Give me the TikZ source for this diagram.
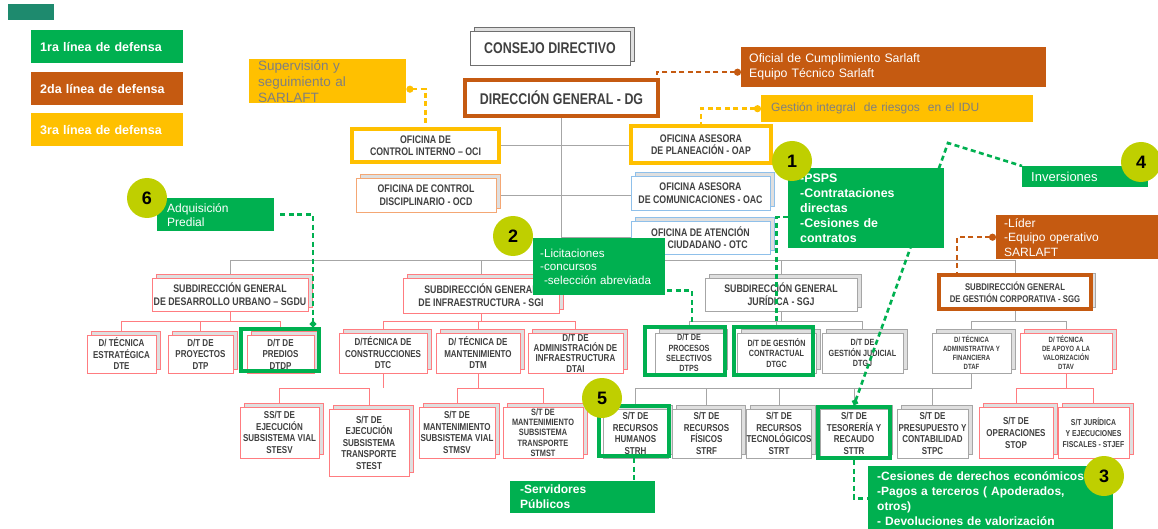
\documentclass[tikz,border=0pt]{standalone}
\usepackage{fontspec}
\setmainfont{Liberation Sans}
\newfontfamily\narrowfont{Liberation Sans}[FakeStretch=0.8,Ligatures=TeX]
\usetikzlibrary{shadows,arrows.meta}

\definecolor{firstline}{HTML}{00B050}
\definecolor{secondline}{HTML}{C55A11}
\definecolor{thirdline}{HTML}{FFC000}
\definecolor{legendteal}{HTML}{1E8A6E}
\definecolor{badgegreen}{HTML}{BFCF00}
\definecolor{redframe}{HTML}{FF7C80}
\definecolor{grayframe}{HTML}{A6A6A6}
\definecolor{darkframe}{HTML}{6F6F6F}
\definecolor{blueframe}{HTML}{8FC0EA}
\definecolor{orangeframe}{HTML}{F4A774}
\definecolor{boxtext}{HTML}{404040}
\definecolor{notetext}{HTML}{7F7F7F}

\pgfdeclarelayer{wires}
\pgfdeclarelayer{labels}
\pgfsetlayers{wires,main,labels}

\tikzset{
  orgbox/.style={draw=#1, fill=white, line width=0.7pt, text=boxtext, align=center,
    inner sep=0pt, font=\narrowfont\bfseries\fontsize{10}{11.5}\selectfont,
    copy shadow={shadow xshift=4pt, shadow yshift=4pt, fill=gray!25, draw=#1, line width=0.7pt}},
  thickbox/.style={draw=#1, fill=white, line width=4pt, text=boxtext, align=center,
    inner sep=0pt, font=\narrowfont\bfseries\fontsize{11}{12.5}\selectfont},
  highlight/.style={draw=firstline, line width=4pt, inner sep=0pt},
  note/.style={fill=#1, text=white, align=left, anchor=north west, inner xsep=9pt,
    inner ysep=1pt, font=\fontsize{12}{14}\selectfont},
  badge/.style={circle, fill=badgegreen, minimum size=40pt, inner sep=0pt,
    font=\bfseries\fontsize{18}{18}\selectfont},
  tline/.style={draw=grayframe, line width=0.8pt},
  rline/.style={draw=redframe, line width=0.8pt},
  link/.style={draw=#1, line width=2.6pt, dash pattern=on 5pt off 3.5pt},
  officetext/.style={font=\narrowfont\bfseries\fontsize{11}{12.5}\selectfont},
  sgtext/.style={font=\narrowfont\bfseries\fontsize{11}{13}\selectfont},
  jurtext/.style={font=\narrowfont\bfseries\fontsize{9}{10.3}\selectfont},
  smalltext/.style={font=\narrowfont\bfseries\fontsize{7.6}{9}\selectfont},
  legendtext/.style={font=\bfseries\fontsize{12.5}{14}\selectfont},
}

\begin{document}
\begin{tikzpicture}[x=1pt,y=-1pt]
  \useasboundingbox (0,0) rectangle (1158,529);

  % legend
  \fill [legendteal] (8,4) rectangle (54,20);
  \node (first)  [note=firstline,  legendtext, text width=134pt, minimum height=33pt] at (31,30)  {1ra línea de defensa};
  \node (second) [note=secondline, legendtext, text width=134pt, minimum height=33pt] at (31,72)  {2da línea de defensa};
  \node (third)  [note=thirdline,  legendtext, text width=134pt, minimum height=33pt] at (31,113) {3ra línea de defensa};

  % top of the chart
  \node (consejo) [orgbox=darkframe, font=\narrowfont\bfseries\fontsize{15.5}{17}\selectfont,
                   minimum width=160pt, minimum height=34pt] at (550,48) {CONSEJO DIRECTIVO};
  \node (dg)  [thickbox=secondline, font=\narrowfont\bfseries\fontsize{15.5}{17}\selectfont,
               minimum width=193pt, minimum height=36pt] at (561.5,98) {DIRECCIÓN GENERAL - DG};

  \node (oci) [thickbox=thirdline, minimum width=147pt, minimum height=33pt] at (425.5,145.5) {OFICINA DE\\CONTROL INTERNO – OCI};
  \node (ocd) [orgbox=orangeframe, officetext, minimum width=140pt, minimum height=34pt] at (426,195) {OFICINA DE CONTROL\\DISCIPLINARIO - OCD};
  \node (oap) [thickbox=thirdline, minimum width=140pt, minimum height=37pt] at (701,144.5) {OFICINA ASESORA\\DE PLANEACIÓN - OAP};
  \node (oac) [orgbox=blueframe, officetext, minimum width=139pt, minimum height=34pt] at (700.5,193) {OFICINA ASESORA\\DE COMUNICACIONES - OAC};
  \node (otc) [orgbox=blueframe, officetext, minimum width=139pt, minimum height=33pt] at (700.5,237.5) {OFICINA DE ATENCIÓN\\AL CIUDADANO - OTC};

  % subdirecciones
  \node (sgdu) [orgbox=redframe,  sgtext, minimum width=156pt, minimum height=33pt] at (230,294.5) {SUBDIRECCIÓN GENERAL\\DE DESARROLLO URBANO – SGDU};
  \node (sgi)  [orgbox=redframe,  sgtext, minimum width=156pt, minimum height=35pt] at (481,295.5) {SUBDIRECCIÓN GENERAL\\DE INFRAESTRUCTURA - SGI};
  \node (sgj)  [orgbox=grayframe, sgtext, minimum width=152pt, minimum height=33pt] at (781,294.5) {SUBDIRECCIÓN GENERAL\\JURÍDICA - SGJ};
  \node (sgg)  [thickbox=secondline, font=\narrowfont\bfseries\fontsize{9.7}{11.5}\selectfont,
                copy shadow={shadow xshift=4pt, shadow yshift=2pt, fill=gray!25, draw=grayframe, line width=0.7pt},
                minimum width=152pt, minimum height=34pt] at (1015,292) {SUBDIRECCIÓN GENERAL\\DE GESTIÓN CORPORATIVA - SGG};

  % direcciones tecnicas
  \node (dte)  [orgbox=redframe, minimum width=69pt, minimum height=38pt] at (121.5,354) {D/ TÉCNICA\\ESTRATÉGICA\\DTE};
  \node (dtp)  [orgbox=redframe, minimum width=65pt, minimum height=38pt] at (200.5,354) {D/T DE\\PROYECTOS\\DTP};
  \node (dtdp) [orgbox=redframe, minimum width=67pt, minimum height=38pt] at (280.5,354) {D/T DE\\PREDIOS\\DTDP};
  \node (dtc)  [orgbox=redframe, minimum width=88pt, minimum height=40pt] at (383,353) {D/TÉCNICA DE\\CONSTRUCCIONES\\DTC};
  \node (dtm)  [orgbox=redframe, minimum width=84pt, minimum height=40pt] at (478,353) {D/ TÉCNICA DE\\MANTENIMIENTO\\DTM};
  \node (dtai) [orgbox=redframe, font=\narrowfont\bfseries\fontsize{10}{10.3}\selectfont,
                minimum width=95pt, minimum height=40pt] at (575.5,353) {D/T DE\\ADMINISTRACIÓN DE\\INFRAESTRUCTURA\\DTAI};
  \node (dtps) [orgbox=grayframe, jurtext, minimum width=68pt, minimum height=40pt] at (689,353) {D/T DE\\PROCESOS\\SELECTIVOS\\DTPS};
  \node (dtgc) [orgbox=grayframe, jurtext, minimum width=79pt, minimum height=40pt] at (776.5,353) {D/T DE GESTIÓN\\CONTRACTUAL\\DTGC};
  \node (dtgj) [orgbox=grayframe, jurtext, minimum width=81pt, minimum height=40pt] at (862.5,353) {D/T DE\\GESTIÓN JUDICIAL\\DTGJ};
  \node (dtaf) [orgbox=grayframe, smalltext, minimum width=79pt, minimum height=40pt] at (971.5,353) {D/ TÉCNICA\\ADMINISTRATIVA Y\\FINANCIERA\\DTAF};
  \node (dtav) [orgbox=redframe, smalltext, minimum width=92pt, minimum height=40pt] at (1066,353) {D/ TÉCNICA\\DE APOYO A LA\\VALORIZACIÓN\\DTAV};

  % subdirecciones tecnicas
  \node (stesv) [orgbox=redframe, minimum width=79pt, minimum height=51pt] at (279.5,432.5) {SS/T DE\\EJECUCIÓN\\SUBSISTEMA VIAL\\STESV};
  \node (stest) [orgbox=redframe, minimum width=80pt, minimum height=67pt] at (369,442.5) {S/T DE\\EJECUCIÓN\\SUBSISTEMA\\TRANSPORTE\\STEST};
  \node (stmsv) [orgbox=redframe, minimum width=76pt, minimum height=51pt] at (457,432.5) {S/T DE\\MANTENIMIENTO\\SUBSISTEMA VIAL\\STMSV};
  \node (stmst) [orgbox=redframe, font=\narrowfont\bfseries\fontsize{9.2}{10.3}\selectfont,
                 minimum width=80pt, minimum height=51pt] at (543,432.5) {S/T DE\\MANTENIMIENTO\\SUBSISTEMA\\TRANSPORTE\\STMST};
  \node (strh)  [orgbox=grayframe, minimum width=65pt, minimum height=49pt] at (635.5,433.5) {S/T DE\\RECURSOS\\HUMANOS\\STRH};
  \node (strf)  [orgbox=grayframe, minimum width=69pt, minimum height=49pt] at (706.5,433.5) {S/T DE\\RECURSOS\\FÍSICOS\\STRF};
  \node (strt)  [orgbox=grayframe, minimum width=64pt, minimum height=49pt] at (779,433.5) {S/T DE\\RECURSOS\\TECNOLÓGICOS\\STRT};
  \node (sttr)  [orgbox=grayframe, minimum width=68pt, minimum height=49pt] at (854,433.5) {S/T DE\\TESORERÍA Y\\RECAUDO\\STTR};
  \node (stpc)  [orgbox=grayframe, minimum width=71pt, minimum height=49pt] at (932.5,433.5) {S/T DE\\PRESUPUESTO Y\\CONTABILIDAD\\STPC};
  \node (stop)  [orgbox=redframe, font=\narrowfont\bfseries\fontsize{10}{12}\selectfont,
                 minimum width=74pt, minimum height=51pt] at (1016,432.5) {S/T DE\\OPERACIONES\\STOP};
  \node (stjef) [orgbox=redframe, font=\narrowfont\bfseries\fontsize{8.6}{11}\selectfont,
                 minimum width=71pt, minimum height=51pt] at (1093.5,432.5) {S/T JURÍDICA\\Y EJECUCIONES\\FISCALES - STJEF};

  % first line of defense marks
  \node (hldtdp) [highlight, minimum width=78pt, minimum height=42pt] at (280,350) {};
  \node (hldtps) [highlight, minimum width=80pt, minimum height=48pt] at (685,351) {};
  \node (hldtgc) [highlight, minimum width=79pt, minimum height=48pt] at (773.5,351) {};
  \node (hlstrh) [highlight, minimum width=70pt, minimum height=50pt] at (634,431) {};
  \node (hlsttr) [highlight, minimum width=72pt, minimum height=51pt] at (854,432.5) {};

  % tree lines
  \begin{pgfonlayer}{wires}
    \coordinate (bus)  at (0,260);
    \coordinate (rowb) at (0,321);
    \coordinate (rowc) at (0,388);
    \draw [tline] (dg) -- (dg |- bus);
    \draw [tline] (oci.east) -- (oci.east -| oap.west);
    \draw [tline] (ocd.east) -- (ocd.east -| oac.west);
    \draw [tline] (dg |- otc.west) -- (otc.west);
    \draw [tline] (sgdu.north |- bus) -- (sgg.north |- bus);
    \foreach \n in {sgdu,sgi,sgj,sgg}
      \draw [tline] (\n.north |- bus) -- (\n.north);

    \draw [rline] (sgdu) -- (sgdu |- rowb);
    \draw [rline] (dte.north |- rowb) -- (dtdp.north |- rowb);
    \foreach \n in {dte,dtp,dtdp}
      \draw [rline] (\n.north |- rowb) -- (\n.north);
    \draw [rline] (sgi) -- (sgi |- rowb);
    \draw [rline] (dtc.north |- rowb) -- (dtai.north |- rowb);
    \foreach \n in {dtc,dtm,dtai}
      \draw [rline] (\n.north |- rowb) -- (\n.north);
    \draw [tline] (sgj) -- (sgj |- rowb);
    \draw [tline] (dtps.north |- rowb) -- (dtgj.north |- rowb);
    \foreach \n in {dtps,dtgc,dtgj}
      \draw [tline] (\n.north |- rowb) -- (\n.north);
    \draw [tline] (sgg) -- (sgg |- rowb);
    \draw [tline] (dtaf.north |- rowb) -- (dtav.north |- rowb);
    \foreach \n in {dtaf,dtav}
      \draw [tline] (\n.north |- rowb) -- (\n.north);

    \draw [rline] (dtc) -- (dtc |- rowc);
    \draw [rline] (stesv.north |- rowc) -- (stest.north |- rowc);
    \foreach \n in {stesv,stest}
      \draw [rline] (\n.north |- rowc) -- (\n.north);
    \draw [rline] (dtm) -- (dtm |- rowc);
    \draw [rline] (stmsv.north |- rowc) -- (stmst.north |- rowc);
    \foreach \n in {stmsv,stmst}
      \draw [rline] (\n.north |- rowc) -- (\n.north);
    \draw [tline] (dtaf) -- (dtaf |- rowc);
    \draw [tline] (strh.north |- rowc) -- (dtaf |- rowc);
    \foreach \n in {strh,strf,strt,sttr,stpc}
      \draw [tline] (\n.north |- rowc) -- (\n.north);
    \draw [rline] (dtav) -- (dtav |- rowc);
    \draw [rline] (stop.north |- rowc) -- (stjef.north |- rowc);
    \foreach \n in {stop,stjef}
      \draw [rline] (\n.north |- rowc) -- (\n.north);
  \end{pgfonlayer}

  % notes
  \begin{pgfonlayer}{labels}
    \node (sup) [note=thirdline, text=notetext, font=\fontsize{13.5}{16}\selectfont, inner ysep=0.5pt,
                 text width=139pt, minimum height=44pt] at (249,59) {Supervisión y\\seguimiento al\\SARLAFT};
    \node (ofi) [note=secondline, inner xsep=8pt, font=\fontsize{12.3}{15}\selectfont,
                 text width=289pt, minimum height=40pt] at (741,47) {Oficial de Cumplimiento Sarlaft\\Equipo Técnico Sarlaft};
    \node (gir) [note=thirdline, text=notetext, inner xsep=10pt, text width=252pt,
                 minimum height=27pt] at (761,95) {Gestión integral~ de riesgos~ en el IDU};
    \node (psps) [note=firstline, inner xsep=12pt, font=\bfseries\fontsize{12.4}{15}\selectfont,
                  text width=132pt, minimum height=80pt] at (788,168) {-PSPS\\-Contrataciones\\directas\\-Cesiones de\\contratos};
    \node (inv) [note=firstline, font=\fontsize{13}{14}\selectfont, text width=108pt,
                 minimum height=21pt] at (1022,166) {Inversiones};
    \node (lic) [note=firstline, inner xsep=7pt, font=\fontsize{11.6}{13.7}\selectfont, text width=118pt,
                 minimum height=57pt] at (533,238) {-Licitaciones\\-concursos\\\ -selección abreviada};
    \node (adq) [note=firstline, inner xsep=10pt, text width=97pt, minimum height=33pt] at (157,198) {Adquisición\\Predial};
    \node (lid) [note=secondline, inner xsep=8pt, font=\fontsize{12}{14.5}\selectfont, text width=146pt,
                 minimum height=44pt] at (996,215) {-Líder\\-Equipo operativo\\SARLAFT};
    \node (ser) [note=firstline, inner xsep=10pt, font=\bfseries\fontsize{12}{15}\selectfont, text width=125pt,
                 minimum height=32pt] at (510,481) {-Servidores\\Públicos};
    \node (ces) [note=firstline, font=\bfseries\fontsize{12}{15}\selectfont, text width=227pt,
                 minimum height=64pt] at (868,466) {-Cesiones de derechos económicos\\-Pagos a terceros ( Apoderados,\\otros)\\- Devoluciones de valorización};

    \node (b1) [badge] at (792,161)  {1};
    \node (b2) [badge] at (513,236)  {2};
    \node (b3) [badge] at (1104,476) {3};
    \node (b4) [badge] at (1141,162) {4};
    \node (b5) [badge] at (602,398)  {5};
    \node (b6) [badge] at (147,198)  {6};
  \end{pgfonlayer}

  % dashed links
  \coordinate (peak) at (948,143);
  \draw [link=thirdline, {Circle[length=7pt]}-] ([yshift=-8pt]sup.east) -| (oci.north);
  \draw [link=secondline, {Circle[length=7pt]}-] ([yshift=-5pt]ofi.west) -| ([xshift=-3pt]dg.north east);
  \draw [link=thirdline, {Circle[length=7pt]}-] (gir.west) -| (oap.north);
  \draw [link=secondline, {Circle[length=7pt]}-] (lid.west) -| ([xshift=20pt]sgg.north west);
  \draw [link=firstline, -{Circle[length=6pt]}] ([xshift=6pt]adq.east) -| ([xshift=-8pt]hldtdp.north east);
  \draw [link=firstline] ([xshift=2pt,yshift=5pt]lic.south east) -| ([xshift=7pt]hldtps.north);
  \draw [link=firstline] ([yshift=-9pt]psps.west) -| ([xshift=3pt]hldtgc.north);
  \draw [link=firstline, {Circle[length=6pt]}-] (hlsttr.north) -- (peak) -- (inv.north west);
  \draw [link=firstline] (hlsttr.south) |- (ces.west);
  \draw [link=firstline] (hlstrh.south) -- (hlstrh.south |- ser.north);
\end{tikzpicture}
\end{document}
